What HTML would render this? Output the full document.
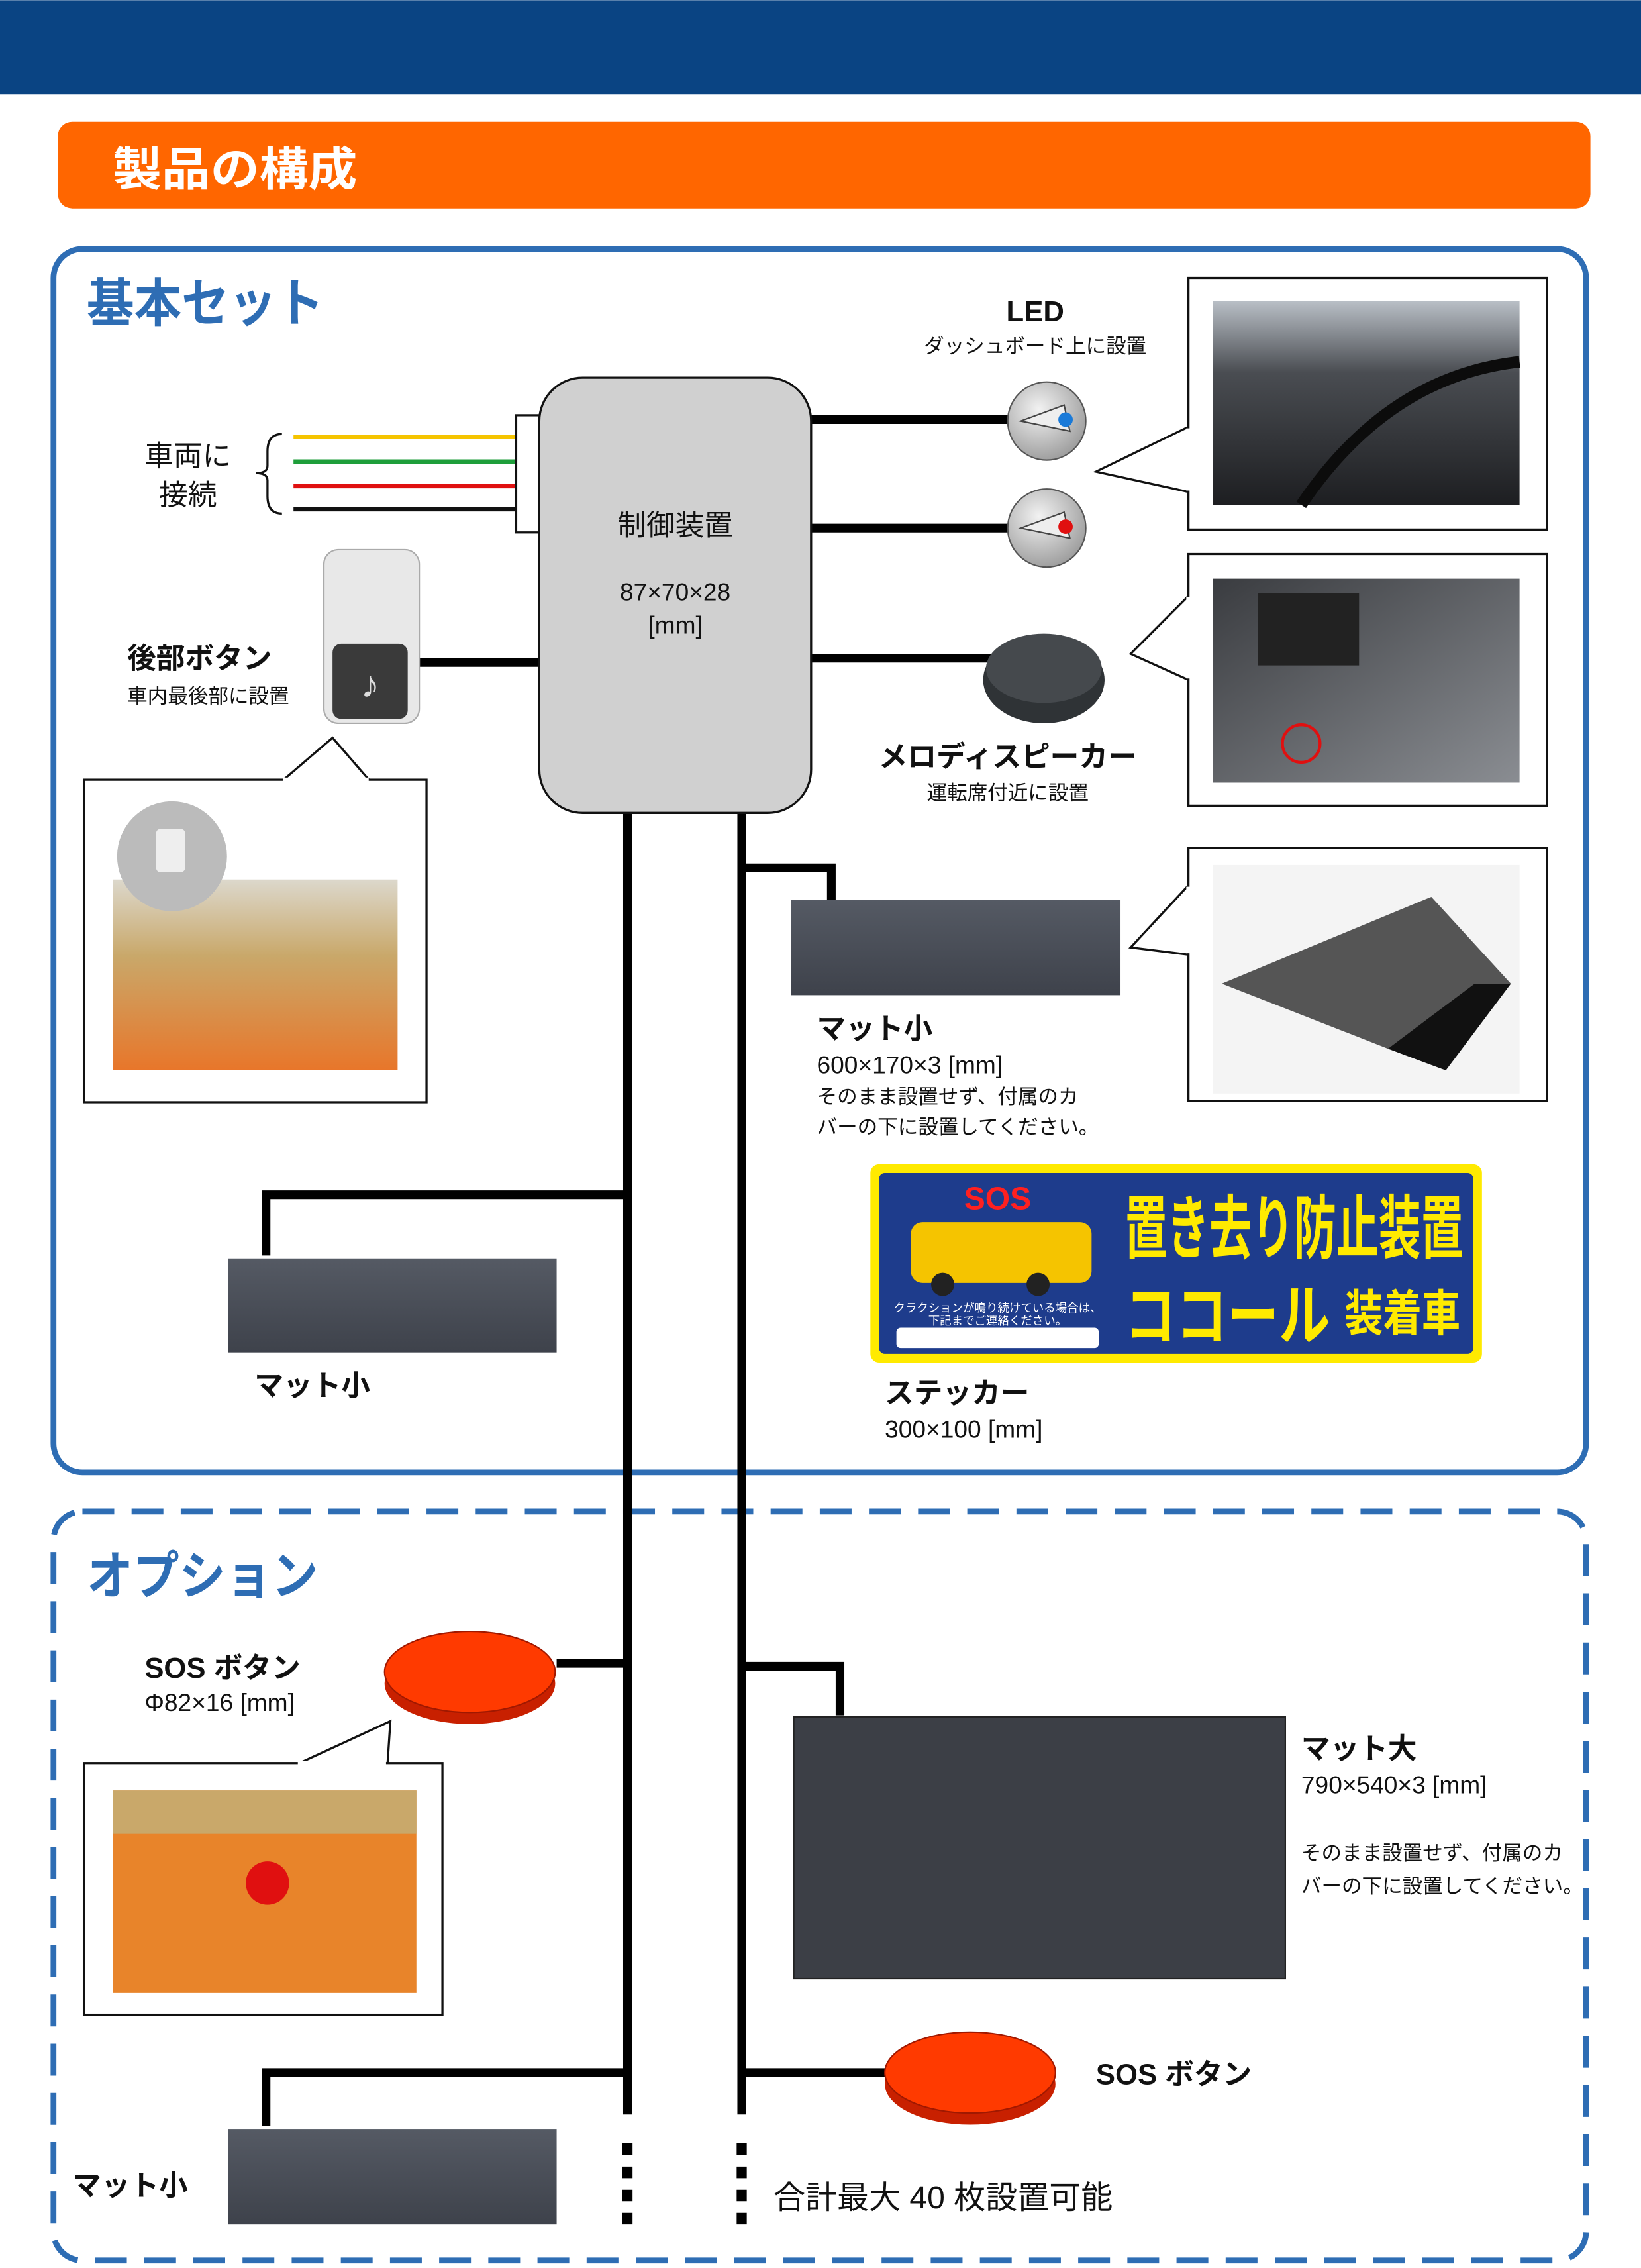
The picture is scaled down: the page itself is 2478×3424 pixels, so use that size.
<!DOCTYPE html>
<html><head><meta charset="utf-8"><style>
html,body{margin:0;padding:0;background:#fff}
svg{display:block}
text{font-family:"Liberation Sans","Noto Sans CJK JP",sans-serif;fill:#111}
.b{font-weight:bold}
</style></head><body>
<svg width="2478" height="3424" viewBox="0 0 1135 1568" xmlns="http://www.w3.org/2000/svg">
<defs>
<radialGradient id="led" cx="40%" cy="35%" r="70%"><stop offset="0" stop-color="#f2f2f2"/><stop offset="1" stop-color="#9a9a9a"/></radialGradient>
<linearGradient id="mat" x1="0" y1="0" x2="0" y2="1"><stop offset="0" stop-color="#555a64"/><stop offset="1" stop-color="#3e424b"/></linearGradient>
<linearGradient id="ph1" x1="0" y1="0" x2="0" y2="1"><stop offset="0" stop-color="#b9bfc6"/><stop offset="0.35" stop-color="#4a4d52"/><stop offset="1" stop-color="#1d1e21"/></linearGradient>
<linearGradient id="ph2" x1="0" y1="0" x2="1" y2="1"><stop offset="0" stop-color="#3a3c40"/><stop offset="1" stop-color="#8a8d92"/></linearGradient>
<linearGradient id="bus" x1="0" y1="0" x2="0" y2="1"><stop offset="0" stop-color="#dcd8cc"/><stop offset="0.4" stop-color="#c9a86a"/><stop offset="1" stop-color="#e8762a"/></linearGradient>
</defs>
<rect x="0" y="0" width="1135" height="65" fill="#0a4483"/>
<rect x="40" y="84" width="1060" height="60" rx="10" fill="#ff6600"/>
<text x="78" y="128" font-size="32" class="b" style="fill:#fff" textLength="169" lengthAdjust="spacingAndGlyphs">製品の構成</text>

<rect x="37" y="172" width="1060" height="846" rx="20" fill="none" stroke="#2e6db4" stroke-width="4"/>
<text x="60" y="222" font-size="36" class="b" style="fill:#2e6db4" textLength="164" lengthAdjust="spacingAndGlyphs">基本セット</text>

<rect x="37" y="1045" width="1060" height="518" rx="20" fill="none" stroke="#2e6db4" stroke-width="4" stroke-dasharray="22 12"/>
<text x="60" y="1102" font-size="36" class="b" style="fill:#2e6db4" textLength="160" lengthAdjust="spacingAndGlyphs">オプション</text>

<line x1="203" y1="302" x2="357" y2="302" stroke="#f5c400" stroke-width="3"/>
<line x1="203" y1="319" x2="357" y2="319" stroke="#1e9e3a" stroke-width="3"/>
<line x1="203" y1="336" x2="357" y2="336" stroke="#e01010" stroke-width="3"/>
<line x1="203" y1="352" x2="357" y2="352" stroke="#111" stroke-width="3"/>
<path d="M195 300 Q185 300 185 312 L185 322 Q185 327 177 327 Q185 327 185 332 L185 343 Q185 355 195 355" fill="none" stroke="#111" stroke-width="1.5"/>
<text x="100" y="322" font-size="20">車両に</text>
<text x="110" y="349" font-size="20">接続</text>

<g stroke="#000" stroke-width="6" fill="none">
<line x1="561" y1="290" x2="697" y2="290"/>
<line x1="561" y1="365" x2="697" y2="365"/>
<line x1="561" y1="455" x2="690" y2="455"/>
<line x1="290" y1="458" x2="373" y2="458"/>
<line x1="434" y1="562" x2="434" y2="1462"/>
<line x1="513" y1="562" x2="513" y2="1462"/>
<polyline points="513,600 575,600 575,622"/>
<polyline points="434,826 184,826 184,868"/>
<polyline points="385,1150 434,1150"/>
<polyline points="513,1152 581,1152 581,1186"/>
<line x1="513" y1="1433" x2="612" y2="1433"/>
<polyline points="434,1433 184,1433 184,1470"/>
</g>
<g stroke="#000" stroke-width="7" stroke-dasharray="8 8">
<line x1="434" y1="1482" x2="434" y2="1542"/>
<line x1="513" y1="1482" x2="513" y2="1542"/>
</g>

<rect x="357" y="287" width="17" height="81" fill="#fff" stroke="#111" stroke-width="1.5"/>
<rect x="373" y="261" width="188" height="301" rx="30" fill="#d0d0d0" stroke="#111" stroke-width="1.5"/>
<text x="467" y="370" font-size="20" text-anchor="middle">制御装置</text>
<text x="467" y="415" font-size="17" text-anchor="middle">87×70×28</text>
<text x="467" y="438" font-size="17" text-anchor="middle">[mm]</text>

<circle cx="724" cy="291" r="27" fill="url(#led)" stroke="#555" stroke-width="1"/>
<path d="M706 291 L736 280 L740 298 Z" fill="#eee" stroke="#444" stroke-width="1"/>
<circle cx="737" cy="290" r="5" fill="#1a7ad8"/>
<circle cx="724" cy="365" r="27" fill="url(#led)" stroke="#555" stroke-width="1"/>
<path d="M706 365 L736 354 L740 372 Z" fill="#eee" stroke="#444" stroke-width="1"/>
<circle cx="737" cy="364" r="5" fill="#e01010"/>
<text x="716" y="222" font-size="20" class="b" text-anchor="middle">LED</text>
<text x="716" y="244" font-size="14" text-anchor="middle">ダッシュボード上に設置</text>

<ellipse cx="722" cy="470" rx="42" ry="30" fill="#2f3336"/>
<ellipse cx="722" cy="462" rx="40" ry="24" fill="#45494d"/>
<text x="697" y="530" font-size="20" class="b" text-anchor="middle">メロディスピーカー</text>
<text x="697" y="553" font-size="14" text-anchor="middle">運転席付近に設置</text>

<path d="M822 295 L758 326 L822 340" fill="#fff" stroke="#111" stroke-width="1.5"/>
<rect x="822" y="192" width="248" height="174" fill="#fff" stroke="#111" stroke-width="1.5"/>
<line x1="822" y1="296" x2="822" y2="339" stroke="#fff" stroke-width="3"/>
<rect x="839" y="208" width="212" height="141" fill="url(#ph1)"/>
<path d="M900 349 Q960 260 1051 250" stroke="#0c0c0c" stroke-width="8" fill="none"/>

<path d="M822 412 L782 452 L822 470" fill="#fff" stroke="#111" stroke-width="1.5"/>
<rect x="822" y="383" width="248" height="174" fill="#fff" stroke="#111" stroke-width="1.5"/>
<line x1="822" y1="413" x2="822" y2="469" stroke="#fff" stroke-width="3"/>
<rect x="839" y="400" width="212" height="141" fill="url(#ph2)"/>
<rect x="870" y="410" width="70" height="50" fill="#222"/>
<circle cx="900" cy="514" r="13" fill="none" stroke="#e01010" stroke-width="2"/>

<path d="M822 612 L782 655 L822 660" fill="#fff" stroke="#111" stroke-width="1.5"/>
<rect x="822" y="586" width="248" height="175" fill="#fff" stroke="#111" stroke-width="1.5"/>
<line x1="822" y1="613" x2="822" y2="659" stroke="#fff" stroke-width="3"/>
<rect x="839" y="598" width="212" height="158" fill="#f4f4f4"/>
<path d="M845 680 L990 620 L1045 680 L1000 740 L960 725 Z" fill="#555"/>
<path d="M960 725 L1000 740 L1045 680 L1020 680 Z" fill="#111"/>

<rect x="224" y="380" width="66" height="120" rx="10" fill="#e8e8e8" stroke="#aaa"/>
<rect x="230" y="445" width="52" height="52" rx="6" fill="#3a3a3a"/>
<text x="256" y="482" font-size="26" text-anchor="middle" style="fill:#ddd">♪</text>
<text x="88" y="462" font-size="20" class="b">後部ボタン</text>
<text x="88" y="486" font-size="14">車内最後部に設置</text>
<path d="M195 540 L230 510 L256 540" fill="#fff" stroke="#111" stroke-width="1.5"/>
<rect x="58" y="539" width="237" height="223" fill="#fff" stroke="#111" stroke-width="1.5"/>
<line x1="196" y1="539" x2="255" y2="539" stroke="#fff" stroke-width="3"/>
<rect x="78" y="608" width="197" height="132" fill="url(#bus)"/>
<circle cx="119" cy="592" r="38" fill="#bbb"/>
<rect x="108" y="573" width="20" height="30" rx="3" fill="#eee"/>

<rect x="547" y="622" width="228" height="66" fill="url(#mat)"/>
<text x="565" y="718" font-size="20" class="b">マット小</text>
<text x="565" y="742" font-size="17">600×170×3 [mm]</text>
<text x="565" y="763" font-size="14">そのまま設置せず、付属のカ</text>
<text x="565" y="784" font-size="14">バーの下に設置してください。</text>

<rect x="158" y="870" width="227" height="65" fill="url(#mat)"/>
<text x="176" y="965" font-size="20" class="b">マット小</text>

<rect x="602" y="805" width="423" height="137" rx="6" fill="#ffea00"/>
<rect x="608" y="811" width="411" height="125" rx="4" fill="#1e3c8c"/>
<text x="690" y="836" font-size="22" class="b" text-anchor="middle" style="fill:#ff2020">SOS</text>
<rect x="630" y="845" width="125" height="42" rx="8" fill="#f5c400"/>
<circle cx="652" cy="888" r="8" fill="#222"/><circle cx="718" cy="888" r="8" fill="#222"/>
<rect x="620" y="918" width="140" height="14" rx="3" fill="#fff"/>
<text x="690" y="907" font-size="8" text-anchor="middle" style="fill:#fff">クラクションが鳴り続けている場合は、</text>
<text x="690" y="916" font-size="8" text-anchor="middle" style="fill:#fff">下記までご連絡ください。</text>
<text x="778" y="866" font-size="48" class="b" style="fill:#ffea00" textLength="234" lengthAdjust="spacingAndGlyphs">置き去り防止装置</text>
<text x="778" y="926" font-size="46" class="b" style="fill:#ffea00" textLength="142" lengthAdjust="spacingAndGlyphs">ココール</text>
<text x="930" y="920" font-size="34" class="b" style="fill:#ffea00" textLength="80" lengthAdjust="spacingAndGlyphs">装着車</text>
<text x="612" y="970" font-size="20" class="b">ステッカー</text>
<text x="612" y="994" font-size="17">300×100 [mm]</text>

<ellipse cx="325" cy="1164" rx="59" ry="28" fill="#c82000"/>
<ellipse cx="325" cy="1156" rx="59" ry="28" fill="#ff3a00" stroke="#a01800" stroke-width="1"/>
<text x="100" y="1160" font-size="20" class="b">SOS ボタン</text>
<text x="100" y="1183" font-size="17">Φ82×16 [mm]</text>
<path d="M205 1220 L270 1190 L268 1220" fill="#fff" stroke="#111" stroke-width="1.5"/>
<rect x="58" y="1219" width="248" height="174" fill="#fff" stroke="#111" stroke-width="1.5"/>
<line x1="206" y1="1219" x2="267" y2="1219" stroke="#fff" stroke-width="3"/>
<rect x="78" y="1238" width="210" height="140" fill="#e8842a"/>
<rect x="78" y="1238" width="210" height="30" fill="#c9a86a"/>
<circle cx="185" cy="1302" r="15" fill="#e01010"/>

<rect x="549" y="1187" width="340" height="181" fill="#3c3f46" stroke="#222"/>
<text x="900" y="1216" font-size="20" class="b">マット大</text>
<text x="900" y="1240" font-size="17">790×540×3 [mm]</text>
<text x="900" y="1286" font-size="14">そのまま設置せず、付属のカ</text>
<text x="900" y="1309" font-size="14">バーの下に設置してください。</text>

<ellipse cx="671" cy="1441" rx="59" ry="28" fill="#c82000"/>
<ellipse cx="671" cy="1433" rx="59" ry="28" fill="#ff3a00" stroke="#a01800" stroke-width="1"/>
<text x="758" y="1441" font-size="20" class="b">SOS ボタン</text>

<rect x="158" y="1472" width="227" height="66" fill="url(#mat)"/>
<text x="50" y="1518" font-size="20" class="b">マット小</text>
<text x="535" y="1527" font-size="22">合計最大 40 枚設置可能</text>
</svg>
</body></html>
